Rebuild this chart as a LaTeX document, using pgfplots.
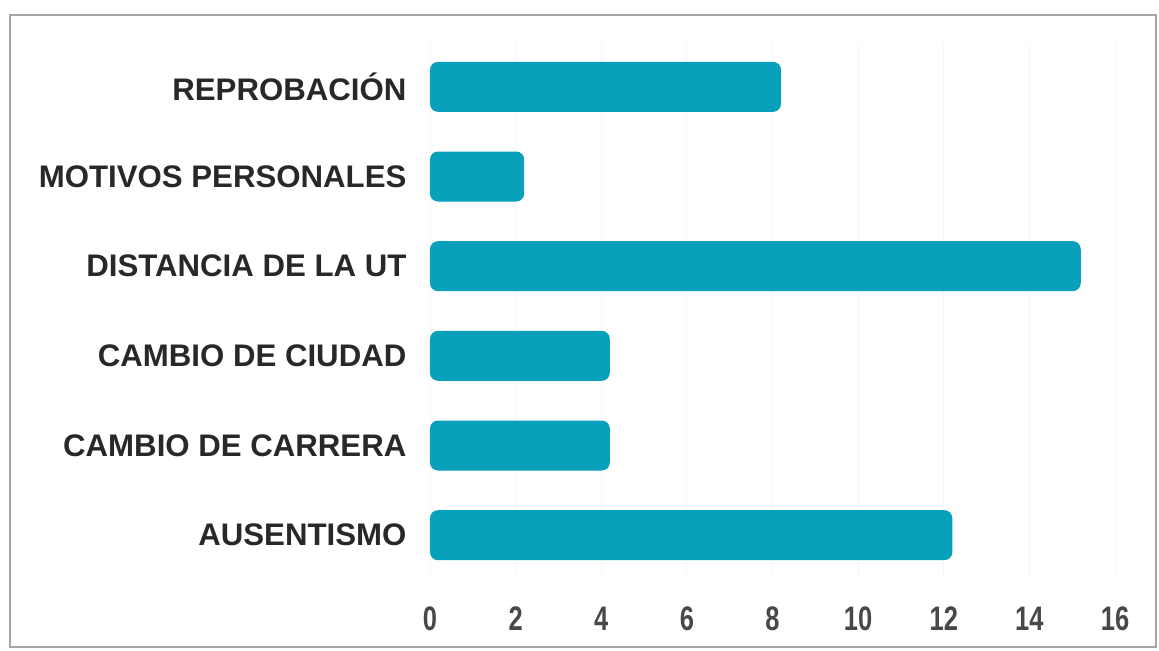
\documentclass[border=0pt]{standalone}
\usepackage{fontspec}
\setmainfont{Liberation Sans}
\newfontfamily\narrowfont[FakeStretch=0.75]{Liberation Sans}
\usepackage{pgfplots}
\pgfplotsset{compat=1.18}
\definecolor{barc}{RGB}{8,160,186}
\definecolor{txt}{RGB}{40,40,40}
\begin{document}
\begin{tikzpicture}[x=1pt,y=1pt]
\useasboundingbox (-215,-35) rectangle (364.5,290);
\draw[gray!70, line width=0.8pt] (-210,-33.5) rectangle (363,282.5);
\begin{axis}[at={(0,0)}, anchor=south west, scale only axis, width=342.5pt, height=269pt,
 xmin=0, xmax=16, ymin=-0.5, ymax=5.5, xtick={0,2,...,16}, ytick={0,...,5},
 yticklabels={AUSENTISMO, CAMBIO DE CARRERA, CAMBIO DE CIUDAD, DISTANCIA DE LA UT, MOTIVOS PERSONALES, REPROBACIÓN},
 axis line style={draw=none}, tick style={draw=none}, xmajorgrids, grid style={gray!6},
 yticklabel style={font=\bfseries\fontsize{15.6}{15.6}\selectfont, text=txt, xshift=-4pt},
 xticklabel style={font=\narrowfont\bfseries\fontsize{17}{17}\selectfont, text=txt!85, yshift=-10pt},
 /pgf/number format/assume math mode=true,
 xbar, bar width=25pt]
\addplot[fill=barc, draw=none, rounded corners=4pt] coordinates {(12.2,0) (4.2,1) (4.2,2) (15.2,3) (2.2,4) (8.2,5)};
\end{axis}
\end{tikzpicture}
\end{document}
